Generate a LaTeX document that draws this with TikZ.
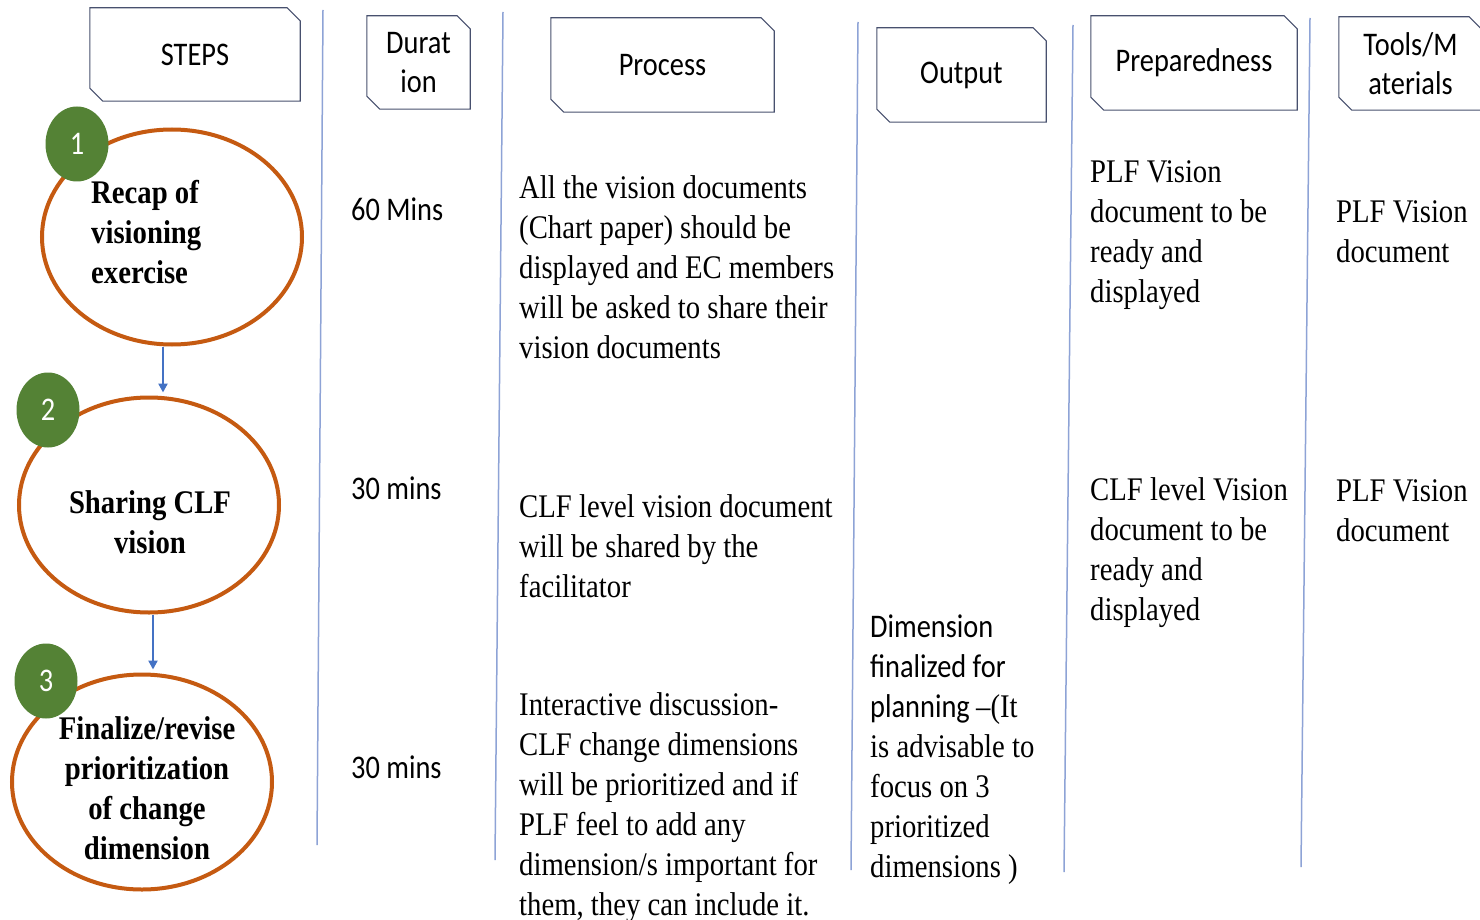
\documentclass[tikz,border=0pt]{standalone}
\usepackage{fontspec}
\setmainfont{Liberation Serif}[FakeStretch=0.87]
\newfontfamily\calfont{Carlito}[FakeStretch=0.86]
\usetikzlibrary{shapes.geometric,arrows.meta}

\definecolor{stepring}{HTML}{C55A11}
\definecolor{badgegreen}{HTML}{548235}
\definecolor{flowblue}{HTML}{4472C4}
\definecolor{rulecol}{HTML}{8EA3D6}
\definecolor{framecol}{HTML}{47506E}

% fixed ascent for the first line of every text block
\newcommand{\lead}{\rule{0pt}{25pt}}
% header frame with the top-right and bottom-left corners cut off
\newcommand{\snipframe}[1]{%
  \draw[hdrline] (#1.north west) -- ([xshift=-13pt]#1.north east)
    -- ([yshift=-13pt]#1.north east) -- (#1.south east)
    -- ([xshift=13pt]#1.south west) -- ([yshift=13pt]#1.south west) -- cycle;}

\tikzset{
  hdr/.style={inner sep=0pt, align=center, font=\calfont\fontsize{33}{39}\selectfont},
  ring/.style={ellipse, draw=stepring, line width=4pt, fill=white,
    minimum width=260pt, minimum height=215pt, inner sep=0pt},
  badge/.style={ellipse, fill=badgegreen, minimum width=63pt, minimum height=75pt,
    inner sep=0pt, text=white, font=\calfont\fontsize{33}{40}\selectfont},
  ringtext/.style={inner sep=0pt, font=\bfseries\fontsize{33}{40}\selectfont},
  body/.style={anchor=north west, inner sep=0pt, align=left, font=\fontsize{33}{40}\selectfont},
  sans/.style={body, font=\calfont\fontsize{33}{40}\selectfont},
  divider/.style={draw=rulecol, line width=1.5pt},
  flow/.style={draw=flowblue, line width=2.6pt, -{Triangle[length=9pt,width=9pt]}, shorten >=3pt},
  hdrline/.style={draw=framecol, line width=1.1pt},
}

\begin{document}
\begin{tikzpicture}[x=1pt,y=-1pt]
\useasboundingbox[fill=white] (0,0) rectangle (1480,920);

% column dividers
\draw[divider] (323,10) -- (317,845);
\draw[divider] (503,12) -- (495,860);
\draw[divider] (858,22) -- (851,870);
\draw[divider] (1073,25) -- (1064,872);
\draw[divider] (1310,18) -- (1301,867);

% column headers
\node[hdr, minimum width=210pt, minimum height=93pt] (hsteps) at (195,54.5) {STEPS};
\node[hdr, minimum width=103pt, minimum height=93pt] (hdur) at (418.5,62.5) {Durat\\ion};
\node[hdr, minimum width=223pt, minimum height=94pt] (hproc) at (662.5,65) {Process};
\node[hdr, minimum width=169pt, minimum height=94pt] (hout) at (961.5,75) {Output};
\node[hdr, minimum width=206pt, minimum height=94pt] (hprep) at (1194,63) {Preparedness};
\node[hdr, minimum width=143pt, minimum height=93pt] (htools) at (1410.5,63.5) {Tools/M\\aterials};
\foreach \h in {hsteps,hdur,hproc,hout,hprep,htools} {\snipframe{\h}}

% steps
\node[ring] (s1) at (172,237) {};
\node[ring] (s2) at (149,505) {};
\node[ring] (s3) at (142,782) {};

\node[ringtext, anchor=north west, align=left] (t1) at (91,178)
  {\lead Recap of\\visioning\\exercise};
\node[ringtext, anchor=north, align=center] (t2) at (150,488)
  {\lead Sharing CLF\\vision};
\node[ringtext, anchor=north, align=center] (t3) at (147,714)
  {\lead Finalize/revise\\prioritization\\of change\\dimension};

\node[badge] (b1) at (77,144) {1};
\node[badge] (b2) at (48,410) {2};
\node[badge] (b3) at (46,681) {3};

\draw[flow] ([xshift=-9pt]s1.south) -- ([xshift=14pt]s2.north);
\draw[flow] ([xshift=4pt]s2.south) -- ([xshift=11pt]s3.north);

% duration
\node[sans] (d1) at (351,195) {\lead 60 Mins};
\node[sans] (d2) at (351,474) {\lead 30 mins};
\node[sans] (d3) at (351,753) {\lead 30 mins};

% process
\node[body] (p1) at (519,173) {\lead All the vision documents\\(Chart paper) should be\\displayed and EC members\\will be asked to share their\\vision documents};
\node[body] (p2) at (519,492) {\lead CLF level vision document\\will be shared by the\\facilitator};
\node[body] (p3) at (519,690) {\lead Interactive discussion-\\CLF change dimensions\\will be prioritized and if\\PLF feel to add any\\dimension/s important for\\them, they can include it.};

% output
\node[body] (o3) at (870,612) {\lead{\calfont Dimension}\\{\calfont finalized for}\\{\calfont planning }–(It\\is advisable to\\focus on 3\\prioritized\\dimensions )};

% preparedness
\node[body] (r1) at (1090,157) {\lead PLF Vision\\document to be\\ready and\\displayed};
\node[body] (r2) at (1090,475) {\lead CLF level Vision\\document to be\\ready and\\displayed};

% tools / materials
\node[body] (m1) at (1336,197) {\lead PLF Vision\\document};
\node[body] (m2) at (1336,476) {\lead PLF Vision\\document};
\end{tikzpicture}
\end{document}
